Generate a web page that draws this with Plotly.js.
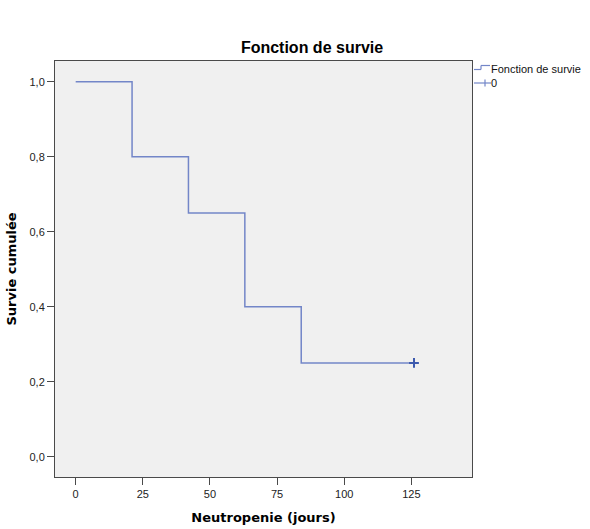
<!DOCTYPE html>
<html>
<head>
<meta charset="utf-8">
<script src="https://cdn.plot.ly/plotly-3.0.1.min.js"></script>
<style>html,body{margin:0;padding:0;background:#fff;}#chart{width:590px;height:529px;}</style>
</head>
<body>
<div id="chart"></div>
<script>
// ---- data ----
const timeDays = [0, 21, 42, 63, 84, 126];
const survival = [1.0, 0.80, 0.65, 0.40, 0.25, 0.25];
const censorTime = [126];
const censorSurv = [0.25];
const xTickVals = [0, 25, 50, 75, 100, 125];
const yTickVals = [0.0, 0.2, 0.4, 0.6, 0.8, 1.0];
const legendLabels = ["Fonction de survie", "0"];
const chartTitle = "Fonction de survie";
const xTitle = "Neutropenie (jours)";
const yTitle = "Survie cumulée";

// ---- layout geometry ----
const W = 590, H = 529;
const M = {l: 55, r: 118, t: 61, b: 52};
const PW = W - M.l - M.r, PH = H - M.t - M.b;
const px = v => (v - M.l) / PW;          // pixel -> paper x
const py = v => (H - M.b - v) / PH;      // pixel -> paper y

const lineColor = '#7386C8';
const censorColor = '#3D5AAE';
const axisColor = '#4a4a4a';

const traces = [
  {
    x: timeDays, y: survival, type: 'scatter', mode: 'lines',
    line: {shape: 'hv', color: lineColor, width: 1.5},
    name: legendLabels[0], showlegend: false, hoverinfo: 'x+y'
  },
  {
    x: censorTime, y: censorSurv, type: 'scatter', mode: 'markers',
    marker: {symbol: 'cross-thin', size: 7, line: {color: censorColor, width: 2}, color: censorColor},
    name: legendLabels[1], showlegend: false, hoverinfo: 'x+y'
  }
];

function seg(x0, y0, x1, y1) {
  return {type: 'line', xref: 'paper', yref: 'paper',
          x0: px(x0), x1: px(x1), y0: py(y0), y1: py(y1),
          line: {color: lineColor, width: 1.2}};
}

const shapes = [
  // legend icon row 1: step
  seg(474, 69.5, 481, 69.5),
  seg(481, 69.5, 481, 65.5),
  seg(481, 65.5, 490, 65.5),
  // legend icon row 2: line + cross
  seg(474, 83, 491, 83),
  seg(485, 79.5, 485, 86.5)
];

const annotations = [
  {text: legendLabels[0], xref: 'paper', yref: 'paper', x: px(488.5), y: py(68.5),
   xanchor: 'left', yanchor: 'middle', showarrow: false,
   font: {family: 'Liberation Sans, Arial, sans-serif', size: 11, color: '#111'}},
  {text: legendLabels[1], xref: 'paper', yref: 'paper', x: px(488.5), y: py(83),
   xanchor: 'left', yanchor: 'middle', showarrow: false,
   font: {family: 'Liberation Sans, Arial, sans-serif', size: 11, color: '#111'}}
];

const layout = {
  width: W, height: H,
  margin: M,
  paper_bgcolor: '#ffffff',
  plot_bgcolor: '#F0F0F0',
  separators: ',.',
  showlegend: false,
  title: {
    text: chartTitle,
    font: {family: 'Liberation Sans, Arial, sans-serif', size: 16, color: '#000', weight: 'bold'},
    xref: 'paper', x: px(312), xanchor: 'center',
    yref: 'container', y: 1 - 47.5 / H, yanchor: 'middle'
  },
  xaxis: {
    range: [-7.7, 147.6],
    tickvals: xTickVals,
    ticks: 'outside', ticklen: 7, tickwidth: 1, tickcolor: axisColor,
    tickfont: {family: 'Liberation Sans, Arial, sans-serif', size: 11, color: '#222'},
    showgrid: false, zeroline: false,
    showline: true, linecolor: axisColor, linewidth: 1, mirror: true,
    title: {text: xTitle, standoff: 13,
      font: {family: 'DejaVu Sans, sans-serif', size: 13, color: '#000', weight: 'bold'}}
  },
  yaxis: {
    range: [-0.0541, 1.0552],
    tickvals: yTickVals, tickformat: '.1f',
    ticks: 'outside', ticklen: 7, tickwidth: 1, tickcolor: axisColor,
    tickfont: {family: 'Liberation Sans, Arial, sans-serif', size: 11, color: '#222'},
    showgrid: false, zeroline: false,
    showline: true, linecolor: axisColor, linewidth: 1, mirror: true,
    title: {text: yTitle, standoff: 9,
      font: {family: 'DejaVu Sans, sans-serif', size: 13, color: '#000', weight: 'bold'}}
  },
  shapes: shapes,
  annotations: annotations
};

Plotly.newPlot('chart', traces, layout, {displayModeBar: false, staticPlot: true});
</script>
</body>
</html>
